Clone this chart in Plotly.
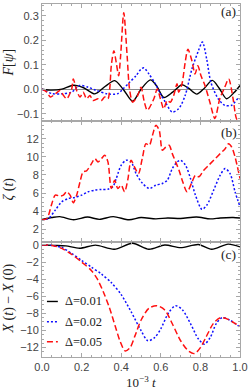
import plotly.graph_objects as go

# ---------------- data ----------------
# panel (a): F[psi]
ta_k = [0, 0.05, 0.1, 0.16, 0.21, 0.267, 0.32, 0.367, 0.41, 0.458, 0.5, 0.548, 0.58, 0.615, 0.66, 0.707, 0.74, 0.782, 0.82, 0.86, 0.895, 0.932, 0.97, 1.0]
Fa_k = [0, -0.004, 0.0, 0.016, 0.006, -0.019, 0.012, 0.035, 0.0, -0.049, 0.0, 0.038, 0.012, -0.034, -0.012, 0.018, 0.004, -0.02, 0.004, 0.036, 0.004, -0.039, -0.014, 0.015]

ta_b = [0, 0.02, 0.05, 0.1, 0.15, 0.19, 0.233, 0.275, 0.33, 0.38, 0.408, 0.442, 0.475, 0.5, 0.515, 0.54, 0.573, 0.598, 0.623, 0.657, 0.69, 0.723, 0.757, 0.79, 0.81, 0.832, 0.853, 0.89, 0.923, 0.957, 0.99, 1.0]
Fa_b = [0, -0.008, -0.018, -0.019, -0.012, 0.015, 0.008, -0.005, -0.019, -0.019, 0.0, 0.028, 0.055, 0.082, 0.087, 0.062, 0.022, -0.019, -0.053, -0.093, -0.08, -0.026, 0.082, 0.157, 0.193, 0.122, 0.028, -0.039, -0.066, -0.066, -0.039, -0.042]

ta_r = [0, 0.025, 0.042, 0.067, 0.092, 0.108, 0.125, 0.15, 0.158, 0.175, 0.192, 0.208, 0.225, 0.242, 0.258, 0.283, 0.3, 0.317, 0.333, 0.342, 0.35, 0.363, 0.375, 0.387, 0.397, 0.413, 0.43, 0.442, 0.458, 0.483, 0.5, 0.517, 0.532, 0.565, 0.582, 0.598, 0.615, 0.632, 0.648, 0.665, 0.682, 0.69, 0.707, 0.723, 0.737, 0.757, 0.773, 0.787, 0.803, 0.823, 0.848, 0.873, 0.898, 0.923, 0.943, 0.965, 0.982, 1.0]
Fa_r = [0, -0.012, -0.032, -0.019, -0.005, -0.025, -0.039, 0.001, 0.042, -0.005, -0.032, -0.012, -0.039, -0.026, -0.046, -0.039, -0.046, -0.032, -0.039, 0.001, 0.096, 0.157, 0.109, 0.055, 0.136, 0.312, 0.136, 0.001, -0.053, -0.026, 0.008, -0.053, -0.086, -0.039, 0.001, -0.039, -0.08, -0.046, -0.053, -0.026, 0.022, -0.012, 0.022, 0.109, 0.163, 0.116, 0.062, 0.096, 0.055, 0.015, -0.053, -0.12, -0.039, 0.008, 0.042, -0.039, -0.12, -0.14]

# panel (b): zeta(t)
tb_k = [0, 0.05, 0.09, 0.16, 0.23, 0.29, 0.36, 0.44, 0.5, 0.575, 0.635, 0.7, 0.78, 0.85, 0.9, 0.965, 1.0]
zb_k = [3.1, 3.3, 3.4, 3.05, 3.35, 3.1, 3.4, 3.05, 3.3, 3.15, 3.25, 3.2, 3.35, 3.15, 3.25, 3.3, 3.25]

tb_b = [0, 0.033, 0.067, 0.1, 0.133, 0.167, 0.2, 0.233, 0.267, 0.3, 0.333, 0.358, 0.375, 0.4, 0.425, 0.45, 0.475, 0.508, 0.542, 0.575, 0.608, 0.633, 0.658, 0.683, 0.7, 0.725, 0.75, 0.775, 0.808, 0.833, 0.867, 0.9, 0.925, 0.95, 0.975, 1.0]
zb_b = [3.03, 3.2, 4.12, 5.04, 5.4, 5.52, 5.77, 6.14, 6.32, 6.4, 6.43, 6.7, 7.6, 9.07, 9.62, 9.44, 8.15, 7.06, 6.5, 6.87, 7.06, 7.42, 8.7, 9.44, 9.62, 9.07, 7.6, 5.77, 4.2, 4.68, 6.32, 7.97, 8.7, 8.15, 6.14, 4.5]

tb_r = [0, 0.025, 0.05, 0.067, 0.092, 0.108, 0.125, 0.142, 0.158, 0.175, 0.192, 0.208, 0.225, 0.25, 0.267, 0.283, 0.3, 0.317, 0.333, 0.35, 0.367, 0.383, 0.4, 0.417, 0.433, 0.45, 0.467, 0.487, 0.508, 0.525, 0.542, 0.558, 0.575, 0.592, 0.608, 0.625, 0.642, 0.658, 0.675, 0.692, 0.708, 0.733, 0.758, 0.775, 0.792, 0.817, 0.842, 0.867, 0.9, 0.925, 0.942, 0.958, 0.975, 1.0]
zb_r = [3.03, 3.2, 4.86, 5.77, 5.66, 5.77, 6.14, 5.77, 4.93, 5.77, 7.24, 8.34, 8.45, 9.25, 9.8, 9.44, 9.8, 10.17, 9.44, 6.5, 7.42, 6.5, 6.87, 6.14, 7.42, 9.62, 8.89, 8.15, 10.0, 11.45, 11.27, 12.37, 13.47, 12.92, 10.72, 11.08, 11.27, 10.35, 9.44, 8.52, 7.42, 6.14, 7.24, 7.97, 7.79, 8.52, 9.07, 9.62, 10.35, 10.9, 11.45, 11.08, 9.98, 7.6]

# panel (c): X(t) - X(0)
tc_k = [0, 0.06, 0.12, 0.19, 0.27, 0.365, 0.457, 0.54, 0.62, 0.7, 0.79, 0.857, 0.94, 1.0]
xc_k = [0, -0.05, -0.1, -0.39, -0.02, -0.5, 0.2, -0.5, 0.0, -0.31, 0.05, -0.5, 0.1, -0.23]

tc_b = [0, 0.05, 0.1, 0.15, 0.2, 0.25, 0.3, 0.35, 0.4, 0.45, 0.5, 0.535, 0.57, 0.6, 0.64, 0.675, 0.71, 0.75, 0.79, 0.82, 0.85, 0.88, 0.91, 0.95, 1.0]
xc_b = [0, -0.05, -0.3, -1.0, -1.8, -2.6, -3.4, -4.4, -5.8, -7.8, -10.0, -11.2, -10.8, -9.8, -7.9, -7.1, -7.6, -9.2, -11.0, -11.6, -10.8, -9.2, -8.5, -8.8, -9.6]

tc_r = [0, 0.05, 0.1, 0.15, 0.2, 0.25, 0.28, 0.31, 0.34, 0.37, 0.395, 0.42, 0.445, 0.47, 0.5, 0.54, 0.58, 0.62, 0.66, 0.7, 0.74, 0.77, 0.8, 0.83, 0.865, 0.9, 0.94, 0.97, 1.0]
xc_r = [0, -0.05, -0.4, -1.1, -2.0, -3.0, -4.0, -5.5, -7.3, -9.5, -11.3, -12.4, -12.0, -10.6, -8.8, -7.4, -7.1, -7.6, -9.3, -11.2, -12.4, -12.7, -12.0, -10.7, -9.2, -8.5, -8.7, -9.1, -9.5]

legend_labels = ["\u0394=0.01", "\u0394=0.02", "\u0394=0.05"]
x_ticks = [0.0, 0.2, 0.4, 0.6, 0.8, 1.0]

# ---------------- styles ----------------
BLACK = dict(color="black", width=1.4, dash="solid")
BLUE = dict(color="#1010ff", width=1.5, dash="2px,2px")
RED = dict(color="#ff1010", width=1.5, dash="6px,3px")
styles = [BLACK, BLUE, RED]

fig = go.Figure()
panels = [
    ("x", "y", [(ta_k, Fa_k), (ta_b, Fa_b), (ta_r, Fa_r)]),
    ("x2", "y2", [(tb_k, zb_k), (tb_b, zb_b), (tb_r, zb_r)]),
    ("x3", "y3", [(tc_k, xc_k), (tc_b, xc_b), (tc_r, xc_r)]),
]
for xa, ya, series in panels:
    for (t, v), st in zip(series, styles):
        fig.add_trace(go.Scatter(x=t, y=v, mode="lines", xaxis=xa, yaxis=ya,
                                 line=dict(color=st["color"], width=st["width"], dash=st["dash"],
                                           shape="spline", smoothing=0.8),
                                 showlegend=False, hoverinfo="skip"))

FRAME = "#a8a8a8"
TICKFONT = dict(family="Liberation Sans, Arial, sans-serif", size=11, color="#444")
SERIF = "Liberation Serif, Times New Roman, DejaVu Serif, serif"

def xax(anchor, labels):
    return dict(anchor=anchor, range=[0, 1], tickvals=x_ticks, tickformat=".1f",
                showticklabels=labels, showline=True, linecolor=FRAME, linewidth=1,
                mirror="ticks", ticks="inside", ticklen=4, tickcolor=FRAME,
                minor=dict(dtick=0.05, tick0=0, ticks="inside", ticklen=2, tickcolor=FRAME),
                showgrid=False, zeroline=False, tickfont=TICKFONT, fixedrange=True,
                ticklabeloverflow="allow")

def yax(anchor, domain, rng, dtick, mdtick, fmt, zl=False):
    return dict(anchor=anchor, domain=domain, range=rng, dtick=dtick, tick0=0, tickformat=fmt,
                showline=True, linecolor=FRAME, linewidth=1, mirror="ticks",
                ticks="inside", ticklen=4, tickcolor=FRAME,
                minor=dict(dtick=mdtick, tick0=0, ticks="inside", ticklen=2, tickcolor=FRAME),
                showgrid=False, zeroline=zl, zerolinecolor="#8c8c8c", zerolinewidth=1,
                tickfont=TICKFONT, fixedrange=True, ticklabeloverflow="allow")

fig.update_layout(
    width=249, height=390,
    margin=dict(l=42, r=7, t=1, b=33),
    paper_bgcolor="white", plot_bgcolor="white",
    xaxis=xax("y", False),
    xaxis2=xax("y2", False),
    xaxis3=xax("y3", True),
    yaxis=yax("x", [0.6685, 1.0], [-0.13, 0.348], 0.1, 0.02, ".1f", zl=True),
    yaxis2=yax("x2", [0.3258, 0.6685], [0.6, 13.95], 2, 0.5, "d"),
    yaxis3=yax("x3", [0.0, 0.3258], [-13.1, 0.35], 2, 0.5, "d"),
    showlegend=False,
)

ann = []
# panel labels
for txt, yp in [("(a)", 9), ("(b)", 131), ("(c)", 254)]:
    ann.append(dict(text=txt, xref="paper", yref="paper", x=(230.5 - 42) / 200, y=(357 - yp) / 356,
                    showarrow=False, xanchor="center", yanchor="middle",
                    font=dict(family=SERIF, size=13.5, color="#222")))
# y titles
for txt, yp in [("<i>F</i>[<i>\u03c8</i>]", 60), ("<i>\u03b6</i> (<i>t</i>)", 188),
                ("<i>X</i> (<i>t</i>) \u2212 <i>X</i> (0)", 298)]:
    ann.append(dict(text=txt, xref="paper", yref="paper", x=0, xshift=-33, y=(357 - yp) / 356,
                    textangle=-90, showarrow=False, xanchor="center", yanchor="middle",
                    font=dict(family=SERIF, size=14, color="#222")))
# x title
ann.append(dict(text="10<sup>\u22123</sup> <i>t</i>", xref="paper", yref="paper", x=0.5, y=0,
                yshift=-25, showarrow=False, xanchor="center", yanchor="middle",
                font=dict(family=SERIF, size=13, color="#222")))

shapes = []
for lab, st, yp in zip(legend_labels, styles, [301, 321.5, 341.5]):
    yy = (357 - yp) / 356
    shapes.append(dict(type="line", xref="paper", yref="paper", x0=(47 - 42) / 200, x1=(58 - 42) / 200,
                       y0=yy, y1=yy, line=dict(color=st["color"], width=st["width"], dash=st["dash"])))
    ann.append(dict(text=lab, xref="paper", yref="paper", x=(63 - 42) / 200, y=yy, showarrow=False,
                    xanchor="left", yanchor="middle", font=dict(family=SERIF, size=12.5, color="#222")))

fig.update_layout(annotations=ann, shapes=shapes)
fig.write_html("out.html", config={"displayModeBar": False},
               post_script="document.body.style.margin='0px';document.body.style.padding='0px';")
